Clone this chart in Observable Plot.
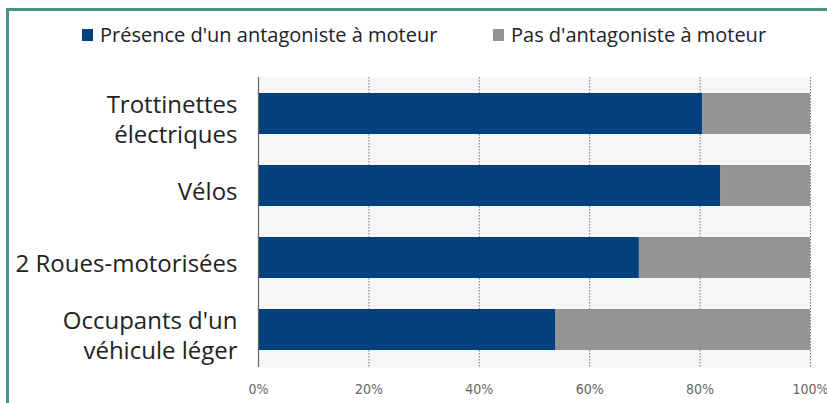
<!DOCTYPE html>
<html><head><meta charset="utf-8">
<script src="https://cdn.jsdelivr.net/npm/d3@7"></script>
<script src="https://cdn.jsdelivr.net/npm/@observablehq/plot@0.6"></script>
<style>
html,body{margin:0;padding:0;background:#fff;width:827px;height:403px;overflow:hidden;}
#frame{position:absolute;left:6px;top:8px;width:900px;height:500px;border:3px solid #4a8f88;box-sizing:border-box;}
#legend{position:absolute;left:0;top:0;width:827px;height:62px;font-family:"Open Sans",Lato,sans-serif;font-size:20px;color:#222;}
.item{position:absolute;top:21px;display:flex;align-items:center;white-space:nowrap;}
.sw{width:11px;height:12px;margin-right:7px;}
#chart{position:absolute;left:0;top:62px;}
</style></head>
<body>
<div id="frame"></div>
<div id="legend"></div>
<div id="chart"></div>
<script>
const categories = ["Trottinettes\nélectriques", "Vélos", "2 Roues-motorisées", "Occupants d'un\nvéhicule léger"];
const presence = [80.5, 83.7, 69, 53.9];
const absence = [19.5, 16.3, 31, 46.1];
const seriesNames = ["Présence d'un antagoniste à moteur", "Pas d'antagoniste à moteur"];
const seriesColors = ["#043f7e", "#939495"];
const xTicks = [0, 20, 40, 60, 80, 100];
const tickLabels = ["0%", "20%", "40%", "60%", "80%", "100%"];

const rows = [];
categories.forEach((c, i) => {
  rows.push({cat: c, series: seriesNames[0], value: presence[i]});
  rows.push({cat: c, series: seriesNames[1], value: absence[i]});
});

// legend
const legend = document.getElementById("legend");
const legendX = [82, 493];
seriesNames.forEach((s, i) => {
  const d = document.createElement("div");
  d.className = "item";
  d.style.left = legendX[i] + "px";
  const sw = document.createElement("span");
  sw.className = "sw";
  sw.style.background = seriesColors[i];
  const t = document.createElement("span");
  t.textContent = s;
  d.appendChild(sw); d.appendChild(t);
  legend.appendChild(d);
});

const chart = Plot.plot({
  width: 827,
  height: 341,
  marginLeft: 258,
  marginRight: 17,
  marginTop: 15,
  marginBottom: 36,
  style: {background: "transparent", overflow: "visible"},
  x: {domain: [0, 100], ticks: xTicks},
  y: {domain: categories, paddingInner: 0.43, paddingOuter: 0.215, axis: null},
  color: {domain: seriesNames, range: seriesColors},
  marks: [
    Plot.frame({fill: "#f6f6f6", stroke: null}),
    Plot.ruleX(xTicks.slice(1), {stroke: "#777", strokeDasharray: "1.5,1.5", strokeWidth: 1}),
    Plot.barX(rows, Plot.stackX({x: "value", y: "cat", fill: "series", order: seriesNames})),
    Plot.ruleX([0], {stroke: "#666", strokeWidth: 1.2}),
    Plot.axisX({
      ticks: xTicks, tickSize: 0, tickPadding: 17,
      tickFormat: (d) => tickLabels[xTicks.indexOf(d)],
      fontSize: 14, fill: "#666",
      fontFamily: "'DejaVu Sans Condensed','DejaVu Sans',sans-serif",
      label: null
    }),
    Plot.text(categories, {
      y: (d) => d, frameAnchor: "left", dx: -21, dy: 4, textAnchor: "end",
      text: (d) => d, fontSize: 24, lineHeight: 1.27,
      fill: "#222", fontFamily: "'Open Sans',Lato,sans-serif"
    })
  ]
});
document.getElementById("chart").appendChild(chart);
</script>
</body></html>
